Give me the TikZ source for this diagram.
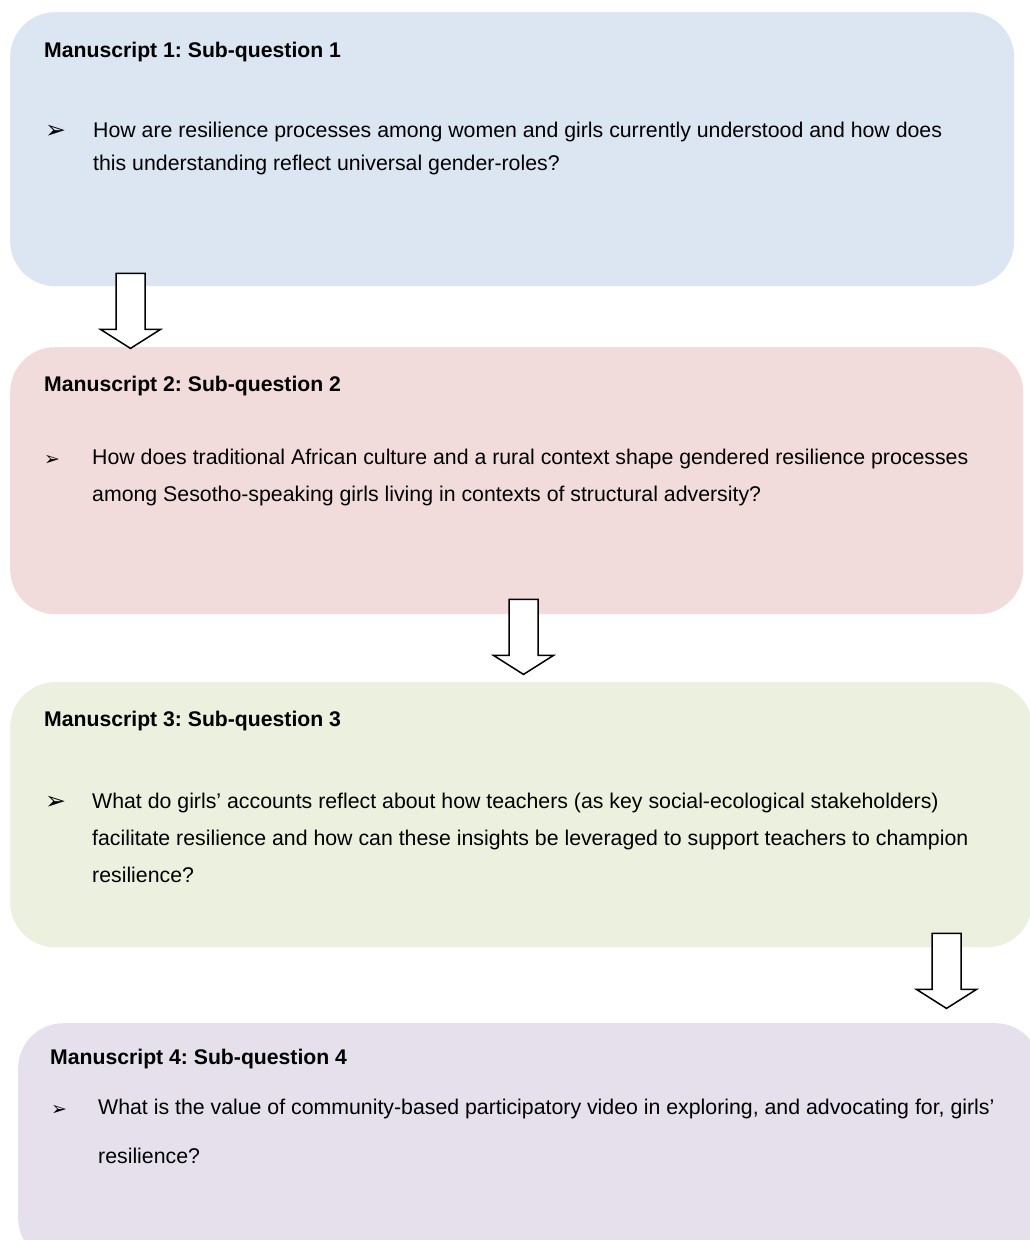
\documentclass[tikz,border=0pt]{standalone}
\usepackage{fontspec}
\setmainfont{Liberation Sans}
\newfontfamily\bulletfont{DejaVu Sans}
\frenchspacing
\usetikzlibrary{calc}
\definecolor{msonecolour}{RGB}{220,230,242}
\definecolor{mstwocolour}{RGB}{242,220,219}
\definecolor{msthreecolour}{RGB}{235,241,222}
\definecolor{msfourcolour}{RGB}{229,224,236}
\tikzstyle{msbox} = [rectangle, rounded corners=45pt, anchor=north west, inner sep=0pt, draw=none]
\tikzstyle{mstitle} = [anchor=base west, inner sep=0pt, font=\bfseries\fontsize{21.2}{25}\selectfont]
\tikzstyle{question} = [anchor=base west, inner sep=0pt, align=left, font=\fontsize{21.3}{37}\selectfont]
\tikzstyle{bigbullet} = [anchor=base west, inner sep=0pt, font=\bulletfont\fontsize{25}{25}\selectfont]
\tikzstyle{smallbullet} = [anchor=base west, inner sep=0pt, font=\bulletfont\fontsize{19}{19}\selectfont]
\tikzstyle{blockarrow} = [draw=black, line width=1.5pt, fill=white, miter limit=10]
\newcommand{\downarrowfrom}[1]{\draw[blockarrow] (#1) ++(-14.5,0) -- ++(29,0) -- ++(0,56) -- ++(15.5,0) -- ++(-30,19) -- ++(-30,-19) -- ++(15.5,0) -- cycle;}

\begin{document}
\begin{tikzpicture}[x=1pt, y=-1pt]
	\clip (0,0) rectangle (1030,1240);
	\fill[white] (0,0) rectangle (1030,1240);
	\node (m1) [msbox, fill=msonecolour, minimum width=1004pt, minimum height=274pt] at (10,12) {};
	\node (m2) [msbox, fill=mstwocolour, minimum width=1013pt, minimum height=267pt] at (10,347) {};
	\node (m3) [msbox, fill=msthreecolour, minimum width=1022pt, minimum height=265pt] at (10,682) {};
	\node (m4) [msbox, fill=msfourcolour, minimum width=1022pt, minimum height=240pt] at (18,1023) {};
	\node (t1) [mstitle] at (44,57) {Manuscript 1: Sub-question 1};
	\node (b1) [bigbullet] at (45,138) {➢};
	\node (q1) [question, font=\fontsize{21.3}{33}\selectfont] at (93,170) {How are resilience processes among women and girls currently understood and how does\\ this understanding reflect universal gender-roles?};
	\node (t2) [mstitle] at (44,391) {Manuscript 2: Sub-question 2};
	\node (b2) [smallbullet] at (44,465) {➢};
	\node (q2) [question] at (92,501) {How does traditional African culture and a rural context shape gendered resilience processes\\ among Sesotho-speaking girls living in contexts of structural adversity?};
	\node (t3) [mstitle] at (44,726) {Manuscript 3: Sub-question 3};
	\node (b3) [bigbullet] at (45,809) {➢};
	\node (q3) [question] at (92,882) {What do girls’ accounts reflect about how teachers (as key social-ecological stakeholders)\\ facilitate resilience and how can these insights be leveraged to support teachers to champion\\ resilience?};
	\node (t4) [mstitle] at (50,1064) {Manuscript 4: Sub-question 4};
	\node (b4) [smallbullet] at (51,1115) {➢};
	\node (q4) [question, font=\fontsize{21.3}{49}\selectfont] at (98,1163) {What is the value of community-based participatory video in exploring, and advocating for, girls’\\ resilience?};
	\coordinate (a1) at ($(m1.south west)+(120.5,-13)$);
	\coordinate (a2) at ($(m2.south west)+(513.5,-15)$);
	\coordinate (a3) at ($(m3.south west)+(936.5,-14)$);
	\downarrowfrom{a1}
	\downarrowfrom{a2}
	\downarrowfrom{a3}
\end{tikzpicture}
\end{document}
